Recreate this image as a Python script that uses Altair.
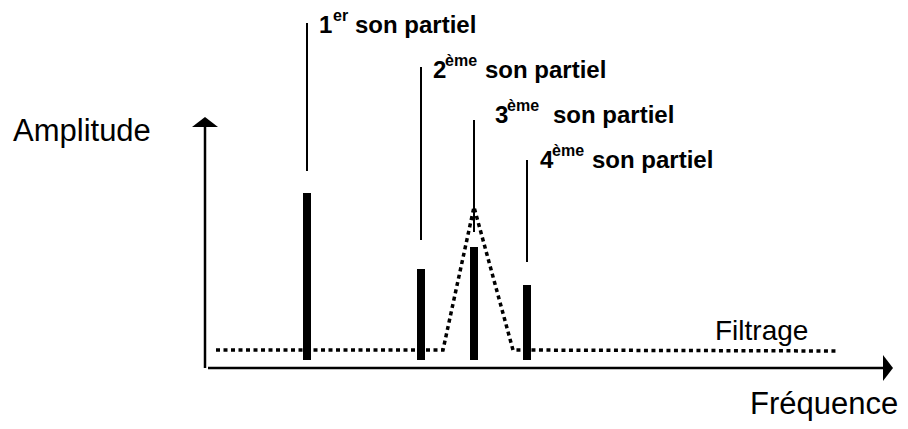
import altair as alt
import pandas as pd

# ---- data (frequency / amplitude in diagram units) ----
partial_freq = [102, 216, 269, 322]
partial_amp = [175, 99, 121, 83]
bar_floor = [8, 8, 8, 8]
leader_top = [345, 301, 248, 208]
leader_bottom = [197, 128, 136, 106]

label_digit = ["1", "2", "3", "4"]
label_sup = ["er", "ème", "ème", "ème"]
label_rest = ["son partiel", "son partiel", "son partiel", "son partiel"]
label_amp = [335, 290, 245, 200]
digit_freq = [114, 228, 290, 335]
sup_freq = [128, 240, 302, 347]
rest_freq = [150, 280, 348, 387]

filter_freq = [11, 238, 269, 308, 632]
filter_amp = [18, 18, 161, 18, 17]

axis_titles = ["Amplitude", "Fréquence", "Filtrage"]
axis_title_freq = [-192, 545, 510]
axis_title_amp = [227, -46, 28]
axis_title_size = [31, 31, 28]

y_axis_top = 241
x_axis_end = 680
arrow_amp = 246
arrow_freq = 683

XD = [-197, 695]
YD = [-53, 360]
FONT = "Liberation Sans"


def X(field="f"):
    return alt.X(f"{field}:Q", scale=alt.Scale(domain=XD, nice=False, zero=False), axis=None)


def Y(field="a"):
    return alt.Y(f"{field}:Q", scale=alt.Scale(domain=YD, nice=False, zero=False), axis=None)


parts = pd.DataFrame({
    "f": partial_freq, "a": partial_amp, "a0": bar_floor,
    "lt": leader_top, "lb": leader_bottom,
    "la": label_amp, "df": digit_freq, "sf": sup_freq, "rf": rest_freq,
    "digit": label_digit, "sup": label_sup, "rest": label_rest,
})

bars = alt.Chart(parts).mark_rule(color="black", strokeWidth=8, strokeCap="butt").encode(
    x=X(), y=Y("a0"), y2="a:Q")

leaders = alt.Chart(parts).mark_rule(color="black", strokeWidth=2, strokeCap="butt").encode(
    x=X(), y=Y("lb"), y2="lt:Q")

digits = alt.Chart(parts).mark_text(
    font=FONT, fontSize=24, fontWeight="bold", align="left", baseline="alphabetic", color="black"
).encode(x=X("df"), y=Y("la"), text="digit:N")

sups = alt.Chart(parts).mark_text(
    font=FONT, fontSize=16, fontWeight="bold", align="left", baseline="alphabetic", color="black", dy=-12
).encode(x=X("sf"), y=Y("la"), text="sup:N")

rests = alt.Chart(parts).mark_text(
    font=FONT, fontSize=24, fontWeight="bold", align="left", baseline="alphabetic", color="black"
).encode(x=X("rf"), y=Y("la"), text="rest:N")

filt = pd.DataFrame({"f": filter_freq, "a": filter_amp, "i": list(range(len(filter_freq)))})
filter_line = alt.Chart(filt).mark_line(
    color="black", strokeWidth=3.5, strokeDash=[4, 3.5], strokeCap="butt"
).encode(x=X(), y=Y(), order="i:Q")

# axes with arrows
yaxis = alt.Chart(pd.DataFrame({"f": [0], "a": [0], "a2": [y_axis_top]})).mark_rule(
    color="black", strokeWidth=2.5).encode(x=X(), y=Y(), y2="a2:Q")
xaxis = alt.Chart(pd.DataFrame({"f": [3], "f2": [x_axis_end], "a": [0]})).mark_rule(
    color="black", strokeWidth=2.5).encode(x=X(), x2="f2:Q", y=Y())

up_arrow = alt.Chart(pd.DataFrame({"f": [0], "a": [arrow_amp]})).mark_point(
    shape="M-1,0.385L0,-0.385L1,0.385Z", size=676, filled=True, color="black", opacity=1
).encode(x=X(), y=Y())
right_arrow = alt.Chart(pd.DataFrame({"f": [arrow_freq], "a": [0]})).mark_point(
    shape="M-0.385,-1L0.385,0L-0.385,1Z", size=676, filled=True, color="black", opacity=1
).encode(x=X(), y=Y())

titles = alt.Chart(pd.DataFrame({
    "f": axis_title_freq, "a": axis_title_amp, "t": axis_titles, "s": axis_title_size
})).mark_text(font=FONT, align="left", baseline="alphabetic", color="black").encode(
    x=X(), y=Y(), text="t:N",
    size=alt.Size("s:Q", scale=None, legend=None))

chart = alt.layer(
    filter_line, bars, leaders, yaxis, xaxis, up_arrow, right_arrow,
    digits, sups, rests, titles
).properties(
    width=892, height=413,
    autosize=alt.AutoSizeParams(type="none"),
    padding=0,
    background="white",
).configure_view(stroke=None)

chart.save("out.html", embed_options={"renderer": "svg", "actions": False})
